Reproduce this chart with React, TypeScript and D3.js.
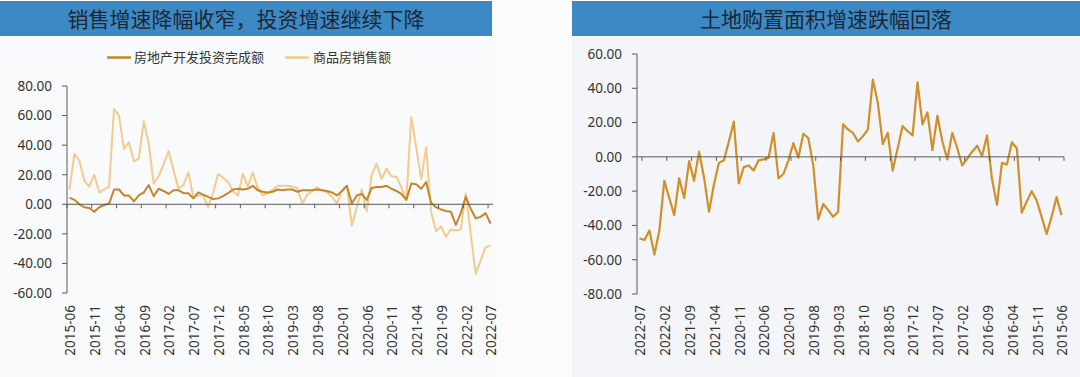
import React from "react";
import * as d3 from "d3";

// Categories: monthly from 2015-06 to 2022-07
const months: string[] = d3
  .timeMonths(new Date(2015, 5, 1), new Date(2022, 7, 1))
  .map(d3.timeFormat("%Y-%m"));

const tickLabels = [
  "2015-06", "2015-11", "2016-04", "2016-09", "2017-02", "2017-07",
  "2017-12", "2018-05", "2018-10", "2019-03", "2019-08", "2020-01",
  "2020-06", "2020-11", "2021-04", "2021-09", "2022-02", "2022-07",
];

const leftTitle = "销售增速降幅收窄，投资增速继续下降";
const rightTitle = "土地购置面积增速跌幅回落";
const seriesNames = ["房地产开发投资完成额", "商品房销售额"];

// 房地产开发投资完成额 (chronological, 2015-06 .. 2022-07)
const investment = [
  4.5, 3, 0, -2, -2.5, -5, -2, -0.5, 0.5, 10,
  10, 6, 6, 2, 6, 8, 13, 5.5, 10.5, 9,
  7, 9.5, 9.5, 7.5, 7.5, 4, 8, 6.5, 5, 3.5,
  4, 5.5, 7.5, 10, 10.5, 10, 10.5, 12.5, 9.5, 8.5,
  8, 8.5, 10, 9.5, 10, 10, 8.5, 9.5, 9.5, 9.5,
  10, 9.5, 9, 8, 6, 9, 12.5, 0.5, 6, 7,
  3, 11, 11.7, 11.7, 12.5, 10.5, 9, 7, 3, 14,
  13.5, 10.5, 15, 1, -2, -3.5, -4.5, -5, -14, -6,
  5, -3, -9.5, -8.5, -6, -13,
];

// 商品房销售额 (chronological)
const sales = [
  10, 34, 29.5, 16, 12, 20, 8, 10, 12, 64.5,
  60, 37.5, 42, 29, 31, 56, 41, 14, 19, 27,
  36, 23, 10.5, 13, 21.5, 5, 6, 6, -2, 8,
  20.5, 18, 15, 9, 6, 20.5, 12, 21.5, 11, 6,
  7.5, 10, 12.5, 12.5, 12.5, 12, 11, 0.5, 6.5, 9,
  11.5, 9.5, 8, 5, 0.5, 9, 12.5, -14.5, -2, 10,
  -5, 19.5, 27.5, 17, 24, 19, 18.5, 11.5, 3, 59,
  38.5, 17, 38.5, -5, -18, -15, -22, -17, -17.5, -17,
  7.5, -20, -47, -38, -29, -28,
];

// 土地购置面积 (listed as displayed, 2022-07 .. 2015-06)
const landDisplayed = [
  -47.5, -48.5, -43, -57, -43, -14, -24, -34, -12.5, -24,
  -2.5, -14, 3, -12, -32, -16, -3.5, -2, 9, 20.5,
  -15.5, -6, -5, -8, -2, -1.5, -0.5, 14, -12.5, -10,
  -2, 8, -0.5, 13.5, 11, -5, -36.5, -27.5, -31, -35,
  -32, 19, 16, 14, 9, 12, 16, 45, 31.5, 7.5,
  14, -8, 5, 18, 15, 12.5, 43.5, 19, 26, 4,
  24, 9, -1.5, 14, 5, -5, -1, 3, 6.5, 0.5,
  12.5, -13, -28, -3.5, -4.5, 8.5, 5, -32.5, -26, -20,
  -25.5, -35, -45, -35, -23.5, -34,
];
const land = landDisplayed.slice().reverse(); // chronological

const leftYTicks = [80, 60, 40, 20, 0, -20, -40, -60];
const rightYTicks = [60, 40, 20, 0, -20, -40, -60, -80];

const C_INV = "#c5862b";
const C_SALES = "#f3cb8d";
const C_LAND = "#d18f2a";
const C_AXIS = "#5a5a5a";
const C_TEXT = "#333333";
const C_BAR = "#3d89c3";
const NUM_FONT = "'Noto Sans', 'DejaVu Sans', sans-serif";
const CJK_FONT = "'Noto Sans CJK SC', 'Noto Sans', sans-serif";

type Series = { values: number[]; color: string; width: number };

function Panel(props: {
  xRange: [number, number];
  reversed: boolean;
  yDomain: [number, number];
  yRange: [number, number];
  yTicks: number[];
  series: Series[];
}) {
  const { xRange, reversed, yDomain, yRange, yTicks, series } = props;
  const domain = reversed ? months.slice().reverse() : months;
  const x = d3.scaleBand<string>().domain(domain).range(xRange).padding(0);
  const y = d3.scaleLinear().domain(yDomain).range(yRange);
  const bw = x.bandwidth();
  const axisX = xRange[0];
  const y0 = y(0);
  const line = d3
    .line<number>()
    .x((_, i) => (x(months[i]) as number) + bw / 2)
    .y((v) => y(v));
  const tickPos = (m: string) =>
    reversed ? (x(m) as number) + bw : (x(m) as number);

  return (
    <g>
      {/* y axis */}
      <line x1={axisX} x2={axisX} y1={y(yDomain[1])} y2={y(yDomain[0])} stroke={C_AXIS} strokeWidth={1} />
      {yTicks.map((t) => (
        <g key={t}>
          <line x1={axisX - 5} x2={axisX} y1={y(t)} y2={y(t)} stroke={C_AXIS} strokeWidth={1} />
          <text
            x={axisX - 15}
            y={y(t)}
            dy="0.36em"
            textAnchor="end"
            fontFamily={NUM_FONT}
            fontSize={13.5}
            fill={C_TEXT}
          >
            {t.toFixed(2)}
          </text>
        </g>
      ))}
      {/* series */}
      {series.map((s, k) => (
        <path
          key={k}
          d={line(s.values) || ""}
          fill="none"
          stroke={s.color}
          strokeWidth={s.width}
          strokeLinejoin="round"
        />
      ))}
      {/* x axis at zero */}
      <line x1={xRange[0]} x2={xRange[1]} y1={y0} y2={y0} stroke={C_AXIS} strokeWidth={1} />
      {tickLabels.map((m) => (
        <line
          key={"t" + m}
          x1={tickPos(m)}
          x2={tickPos(m)}
          y1={y0}
          y2={y0 + 4}
          stroke={C_AXIS}
          strokeWidth={1}
        />
      ))}
      {tickLabels.map((m) => {
        const cx = (x(m) as number) + bw / 2 + 1;
        return (
          <text
            key={"l" + m}
            transform={`translate(${cx},305) rotate(-90)`}
            dy="0.36em"
            textAnchor="end"
            fontFamily={NUM_FONT}
            fontSize={13.5}
            fill={C_TEXT}
          >
            {m}
          </text>
        );
      })}
    </g>
  );
}

export default function App() {
  return (
    <div style={{ position: "fixed", left: 0, top: 0 }}>
      <svg width={1080} height={377} style={{ display: "block" }}>
        <rect x={0} y={0} width={1080} height={377} fill="#fbfbfc" />
        <rect x={0} y={36} width={492} height={341} fill="#f9fafb" />
        <rect x={572} y={36} width={508} height={341} fill="#f3f5f8" />
        {/* title bars */}
        <rect x={0} y={1} width={492} height={35} fill={C_BAR} />
        <text x={246} y={26.5} textAnchor="middle" fontFamily={CJK_FONT} fontSize={21} fill="#1b2735">
          {leftTitle}
        </text>
        <rect x={572} y={1} width={508} height={35} fill={C_BAR} />
        <text x={826} y={26.5} textAnchor="middle" fontFamily={CJK_FONT} fontSize={21} fill="#1b2735">
          {rightTitle}
        </text>
        {/* legend */}
        <line x1={107} x2={131} y1={57.5} y2={57.5} stroke={C_INV} strokeWidth={2.5} />
        <text x={134} y={57.5} dy="0.36em" fontFamily={CJK_FONT} fontSize={13} fill={C_TEXT}>
          {seriesNames[0]}
        </text>
        <line x1={285} x2={309} y1={57.5} y2={57.5} stroke={C_SALES} strokeWidth={2.5} />
        <text x={313} y={57.5} dy="0.36em" fontFamily={CJK_FONT} fontSize={13} fill={C_TEXT}>
          {seriesNames[1]}
        </text>
        <Panel
          xRange={[67, 493]}
          reversed={false}
          yDomain={[-60, 80]}
          yRange={[293, 86]}
          yTicks={leftYTicks}
          series={[
            { values: sales, color: C_SALES, width: 2 },
            { values: investment, color: C_INV, width: 2 },
          ]}
        />
        <Panel
          xRange={[637, 1064]}
          reversed={true}
          yDomain={[-80, 60]}
          yRange={[294, 54]}
          yTicks={rightYTicks}
          series={[{ values: land, color: C_LAND, width: 2.2 }]}
        />
      </svg>
    </div>
  );
}
